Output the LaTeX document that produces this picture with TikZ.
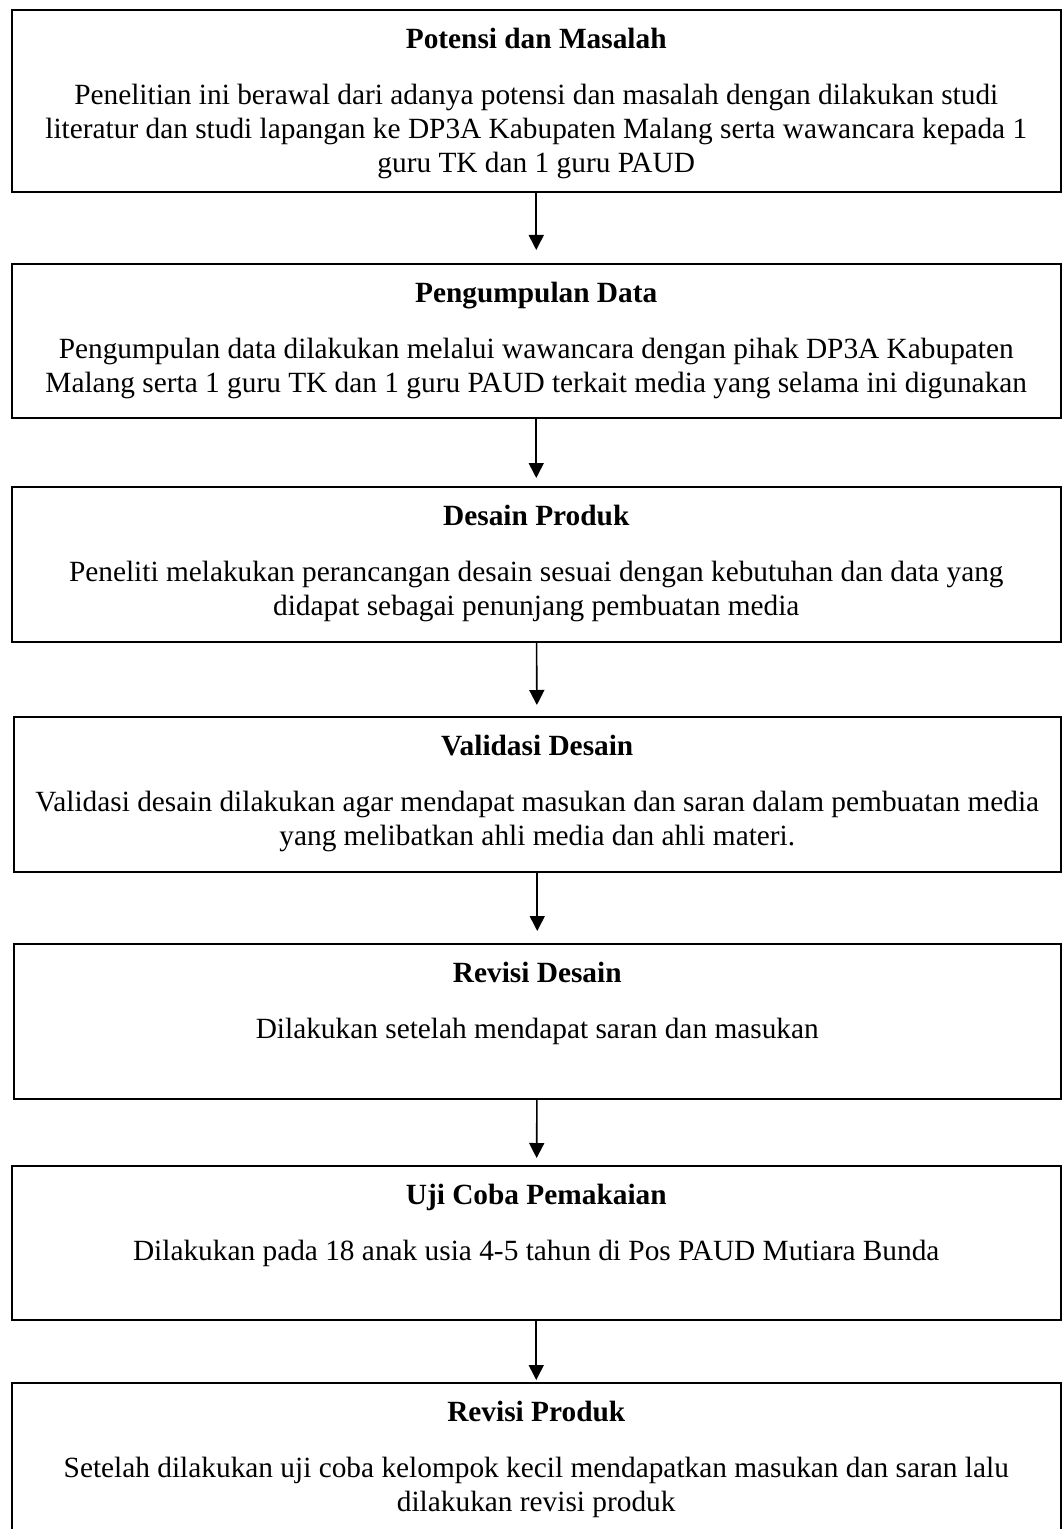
\documentclass[tikz,border=0pt]{standalone}
\usepackage{fontspec}
\setmainfont{Liberation Serif}
\usetikzlibrary{positioning,arrows.meta}
\tikzset{stepbox/.style={
        draw,
        rectangle,
        anchor=north west,
        inner sep=0pt,
        line width=1pt },
    steptext/.style={
        anchor=north,
        align=center,
        inner sep=0pt,
        font=\fontsize{14.67pt}{17pt}\selectfont },
    flow/.style={
        -{Triangle[length=7.5pt,width=7.5pt]},
        line width=0.8pt } }
\newcommand{\steptitle}[1]{\rule{0pt}{12pt}\textbf{#1}\\[11pt]}

\begin{document}
\begin{tikzpicture}[x=0.5pt,y=-0.5pt] % 1 unit = 1 px of the page

\useasboundingbox (0,0) rectangle (1061,1529);

% boxes
\node[stepbox, minimum width=524.75pt, minimum height=91pt]   (potensi)     at (10.5,9)   {};
\node[stepbox, minimum width=524.75pt, minimum height=77pt]   (pengumpulan) at (10.5,263) {};
\node[stepbox, minimum width=524.75pt, minimum height=77.5pt] (desain)      at (10.5,486) {};
\node[stepbox, minimum width=523.75pt, minimum height=77.5pt] (validasi)    at (12.5,716) {};
\node[stepbox, minimum width=523.75pt, minimum height=77.5pt] (revdesain)   at (12.5,943) {};
\node[stepbox, minimum width=524.75pt, minimum height=77pt]   (ujicoba)     at (10.5,1165) {};
\node[stepbox, minimum width=524.75pt, minimum height=81.5pt] (revproduk)   at (10.5,1382) {};

% texts
\node[steptext, below=7.5pt of potensi.north] (potensi_txt)
{\steptitle{Potensi dan Masalah}
Penelitian ini berawal dari adanya potensi dan masalah dengan dilakukan studi\\
literatur dan studi lapangan ke DP3A Kabupaten Malang serta wawancara kepada 1\\
guru TK dan 1 guru PAUD};

\node[steptext, below=7.5pt of pengumpulan.north] (pengumpulan_txt)
{\steptitle{Pengumpulan Data}
Pengumpulan data dilakukan melalui wawancara dengan pihak DP3A Kabupaten\\
Malang serta 1 guru TK dan 1 guru PAUD terkait media yang selama ini digunakan};

\node[steptext, below=7.5pt of desain.north] (desain_txt)
{\steptitle{Desain Produk}
Peneliti melakukan perancangan desain sesuai dengan kebutuhan dan data yang\\
didapat sebagai penunjang pembuatan media};

\node[steptext, below=7.5pt of validasi.north] (validasi_txt)
{\steptitle{Validasi Desain}
Validasi desain dilakukan agar mendapat masukan dan saran dalam pembuatan media\\
yang melibatkan ahli media dan ahli materi.};

\node[steptext, below=7.5pt of revdesain.north] (revdesain_txt)
{\steptitle{Revisi Desain}
Dilakukan setelah mendapat saran dan masukan};

\node[steptext, below=7.5pt of ujicoba.north] (ujicoba_txt)
{\steptitle{Uji Coba Pemakaian}
Dilakukan pada 18 anak usia 4-5 tahun di Pos PAUD Mutiara Bunda};

\node[steptext, below=7.5pt of revproduk.north] (revproduk_txt)
{\steptitle{Revisi Produk}
Setelah dilakukan uji coba kelompok kecil mendapatkan masukan dan saran lalu\\
dilakukan revisi produk};

\path[flow]
(potensi)     edge [shorten >=6.5pt] (pengumpulan)
(pengumpulan) edge [shorten >=4pt]   (desain)
(desain)      edge [shorten >=5.5pt] (validasi)
(validasi)    edge [shorten >=6pt]   (revdesain)
(revdesain)   edge [shorten >=3.5pt] (ujicoba)
(ujicoba)     edge [shorten >=1pt]   (revproduk);

\end{tikzpicture}
\end{document}
